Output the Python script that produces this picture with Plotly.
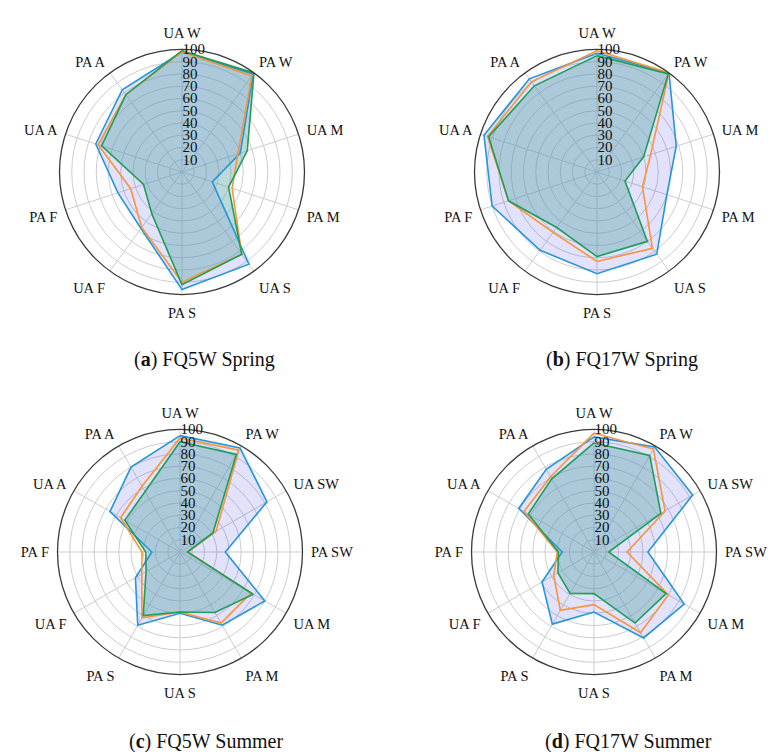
import plotly.graph_objects as go

# ---------------- data ----------------
cats_spring = ["UA W", "PA W", "UA M", "PA M", "UA S", "PA S", "UA F", "PA F", "UA A", "PA A"]
cats_summer = ["UA W", "PA W", "UA SW", "PA SW", "UA M", "PA M", "UA S", "PA S", "UA F", "PA F", "UA A", "PA A"]

a_blue = [98, 99, 50, 26, 93, 96, 57, 55, 74, 83]
a_orange = [98, 97, 48, 43, 83, 90, 56, 44, 72, 78]
a_green = [99, 100, 56, 40, 83, 92, 42, 33, 69, 78]

b_blue = [97, 100, 68, 60, 83, 83, 79, 90, 97, 94]
b_orange = [99, 100, 46, 39, 77, 73, 61, 76, 94, 91]
b_green = [95, 99, 40, 24, 70, 69, 56, 76, 93, 87]

c_blue = [95, 98, 82, 37, 80, 69, 50, 69, 42, 23, 66, 80]
c_orange = [93, 96, 34, 6.5, 67, 67, 49, 62, 36, 31, 56, 62]
c_green = [90, 92, 31, 6, 69, 57, 49, 60, 32, 28, 52, 57]

d_blue = [94, 99, 93, 44, 85, 81, 49, 68, 49, 26, 71, 78]
d_orange = [97, 97, 67, 27, 70, 76, 43, 55, 38, 30, 66, 71]
d_green = [89, 91, 63, 12, 68, 67, 34, 39, 34, 29, 62, 69]

radial_ticks = [10, 20, 30, 40, 50, 60, 70, 80, 90, 100]
captions = ["(<b>a</b>) FQ5W Spring", "(<b>b</b>) FQ17W Spring",
            "(<b>c</b>) FQ5W Summer", "(<b>d</b>) FQ17W Summer"]

# ---------------- style ----------------
W, H = 768, 752
FONT = "Liberation Serif, Times New Roman, serif"
BLUE, ORANGE, GREEN = "#2596d6", "#f8943a", "#1e9e5a"
BLUE_FILL = "rgba(20,20,230,0.12)"
GREEN_FILL = "rgba(104,171,172,0.45)"

panels = [
    dict(cats=cats_spring, series=(a_blue, a_orange, a_green), cx=182, cy=172, cap=(204, 359)),
    dict(cats=cats_spring, series=(b_blue, b_orange, b_green), cx=597, cy=172, cap=(622, 359)),
    dict(cats=cats_summer, series=(c_blue, c_orange, c_green), cx=180, cy=552, cap=(206, 741)),
    dict(cats=cats_summer, series=(d_blue, d_orange, d_green), cx=594, cy=552, cap=(628, 741)),
]
R = 122.5

fig = go.Figure()
layout_polars = {}
annotations = []

def closed(v):
    return list(v) + [v[0]]

for i, p in enumerate(panels):
    name = "polar" if i == 0 else f"polar{i+1}"
    sub = "polar" if i == 0 else f"polar{i+1}"
    cats = closed(p["cats"])
    blue, orange, green = p["series"]
    # fills
    fig.add_trace(go.Scatterpolar(r=closed(blue), theta=cats, subplot=sub, mode="none",
                                  fill="toself", fillcolor=BLUE_FILL, showlegend=False, hoverinfo="skip"))
    fig.add_trace(go.Scatterpolar(r=closed(green), theta=cats, subplot=sub, mode="none",
                                  fill="toself", fillcolor=GREEN_FILL, showlegend=False, hoverinfo="skip"))
    # lines
    for vals, col in ((blue, BLUE), (orange, ORANGE), (green, GREEN)):
        fig.add_trace(go.Scatterpolar(r=closed(vals), theta=cats, subplot=sub, mode="lines",
                                      line=dict(color=col, width=1.6), showlegend=False))
    x0, x1 = (p["cx"] - R) / W, (p["cx"] + R) / W
    y0, y1 = (H - p["cy"] - R) / H, (H - p["cy"] + R) / H
    layout_polars[name] = dict(
        domain=dict(x=[x0, x1], y=[y0, y1]),
        bgcolor="white",
        radialaxis=dict(range=[0, 100], tickvals=radial_ticks, ticktext=[str(t) for t in radial_ticks],
                        angle=90, tickangle=90, side="clockwise", showline=False, ticks="",
                        gridcolor="#cdcdcd", gridwidth=1,
                        tickfont=dict(family=FONT, size=15, color="#111")),
        angularaxis=dict(categoryarray=p["cats"], type="category", rotation=90, direction="clockwise",
                         showline=True, linecolor="#3a3a3a", linewidth=1.3,
                         gridcolor="#cdcdcd", gridwidth=1,
                         ticks="outside", ticklen=5, tickcolor="rgba(0,0,0,0)",
                         tickfont=dict(family=FONT, size=14.5, color="#111")),
    )
    annotations.append(dict(text=captions[i], x=p["cap"][0] / W, y=(H - p["cap"][1]) / H,
                            xref="paper", yref="paper", showarrow=False, xanchor="center", yanchor="middle",
                            font=dict(family=FONT, size=20, color="#111")))

fig.update_layout(width=W, height=H, margin=dict(l=0, r=0, t=0, b=0),
                  paper_bgcolor="white", showlegend=False, annotations=annotations, **layout_polars)

fig.write_html("out.html")
